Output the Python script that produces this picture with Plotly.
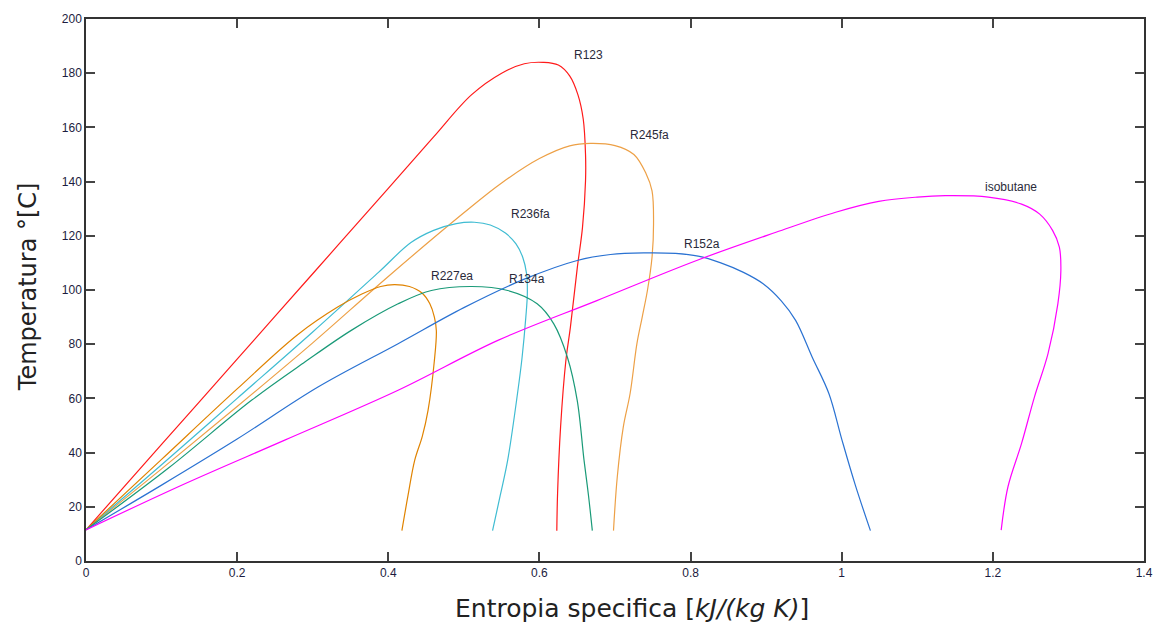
import plotly.graph_objects as go

# Saturation domes (entropy s [kJ/(kg K)], temperature T [°C]) for each working fluid
r123_s = [0, 0.1, 0.2, 0.3, 0.4, 0.46, 0.51, 0.55, 0.58, 0.605, 0.625, 0.64, 0.651,
          0.658, 0.661, 0.661, 0.657, 0.65, 0.641, 0.635, 0.628, 0.624, 0.623]
r123_t = [11.5, 43, 74.5, 106, 137.5, 156.5, 172, 180, 183.5, 184, 183, 179, 172,
          163, 150, 140.3, 123.1, 108, 86.3, 74, 49.5, 24.9, 11.2]

r245fa_s = [0, 0.1, 0.2, 0.3, 0.4, 0.5, 0.55, 0.6, 0.64, 0.6675, 0.70, 0.725, 0.741,
            0.749, 0.751, 0.749, 0.743, 0.736, 0.729, 0.72, 0.711, 0.703, 0.698]
r245fa_t = [11.5, 34, 57, 80.5, 105, 128.5, 139.5, 148.5, 153.2, 154.1, 153.3, 150, 143,
            136.6, 124.4, 112.1, 100, 90, 80.2, 61.8, 49.5, 31, 11.2]

r236fa_s = [0, 0.1, 0.2, 0.3, 0.387, 0.43, 0.46, 0.49, 0.514, 0.535, 0.555, 0.569, 0.578,
            0.583, 0.584, 0.582, 0.577, 0.571, 0.558, 0.548, 0.538]
r236fa_t = [11.5, 35.5, 60, 84.5, 106.5, 117.5, 122, 124.5, 125, 124, 121, 117, 112,
            106, 98.6, 90, 75, 61.8, 37.2, 24, 11.2]

r227ea_s = [0, 0.1, 0.2, 0.28, 0.333, 0.365, 0.39, 0.408, 0.428, 0.445, 0.455, 0.461,
            0.4636, 0.461, 0.4526, 0.445, 0.435, 0.426, 0.418]
r227ea_t = [11.5, 37.5, 63.5, 83.5, 93.7, 98.5, 101.3, 102, 101.3, 98.8, 94.9, 90,
            85, 74, 55.6, 46, 37.2, 24, 11.2]

r134a_s = [0, 0.11, 0.219, 0.29, 0.351, 0.413, 0.457, 0.51, 0.558, 0.597, 0.619, 0.637,
           0.65, 0.659, 0.665, 0.67]
r134a_t = [11.5, 34.5, 59.3, 73.5, 85.1, 94.9, 99.8, 101.3, 99.8, 94.9, 87.5, 75.2,
           59.3, 37.2, 24, 11.2]

r152a_s = [0, 0.1, 0.2, 0.307, 0.413, 0.5, 0.58, 0.65, 0.694, 0.738, 0.78, 0.81, 0.84,
           0.87, 0.896, 0.92, 0.939, 0.961, 0.983, 1.0, 1.018, 1.038]
r152a_t = [11.5, 28, 45, 64.2, 80.2, 93.5, 104, 110.9, 113.1, 113.7, 113.5, 112.5, 110,
           106.5, 102.3, 96, 88.8, 75.2, 61.8, 45, 28, 11.2]

isobutane_s = [0, 0.1316, 0.263, 0.413, 0.545, 0.676, 0.808, 0.913, 0.992, 1.049, 1.1, 1.137,
               1.194, 1.238, 1.262, 1.279, 1.288, 1.29, 1.286, 1.273, 1.255, 1.238, 1.22, 1.211]
isobutane_t = [11.5, 28.6, 44.6, 63, 81.4, 96.1, 110.9, 121.3, 128.7, 132.7, 134.3, 134.8,
               134.3, 131.7, 128, 122, 115.8, 107.2, 94.9, 76.5, 60.5, 43.4, 27.4, 11.4]

fluids = [
    ("R123", r123_s, r123_t, "#ff1a1a"),
    ("R245fa", r245fa_s, r245fa_t, "#eda046"),
    ("R236fa", r236fa_s, r236fa_t, "#3fbcd2"),
    ("R227ea", r227ea_s, r227ea_t, "#e08300"),
    ("R134a", r134a_s, r134a_t, "#1a9a78"),
    ("R152a", r152a_s, r152a_t, "#2a72d2"),
    ("isobutane", isobutane_s, isobutane_t, "#ff00ff"),
]

# Label anchor positions (s, T) for each fluid name
label_s = [0.665, 0.746, 0.588, 0.484, 0.584, 0.815, 1.224]
label_t = [186.7, 157.3, 128.0, 105.0, 104.2, 116.8, 138.0]

x_ticks = [0, 0.2, 0.4, 0.6, 0.8, 1, 1.2, 1.4]
y_ticks = [0, 20, 40, 60, 80, 100, 120, 140, 160, 180, 200]

fig = go.Figure()
for name, s, t, color in fluids:
    fig.add_trace(go.Scatter(
        x=s, y=t, mode="lines", name=name,
        line=dict(color=color, width=1.2, shape="spline", smoothing=1.0),
        showlegend=False,
    ))

for (name, _, _, _), ls, lt in zip(fluids, label_s, label_t):
    fig.add_annotation(x=ls, y=lt, text=name, showarrow=False,
                       font=dict(family="Liberation Sans, Arial", size=12, color="#2a2a3a"))

axis_common = dict(
    showgrid=False, zeroline=False, showline=True, linecolor="#333333", linewidth=1.5,
    mirror="ticks", ticks="inside", ticklen=9, tickwidth=1.5, tickcolor="#444444",
    tickfont=dict(family="Liberation Sans, Arial", size=12, color="#1c1c40"),
)

fig.update_xaxes(range=[0, 1.4], tickvals=x_ticks,
                 ticktext=[f"{v:g}" for v in x_ticks], **axis_common)
fig.update_yaxes(range=[0, 200], tickvals=y_ticks,
                 ticktext=[str(v) for v in y_ticks], **axis_common)

fig.add_annotation(xref="paper", yref="paper", x=0.516, y=-0.088,
                   text="Entropia specifica [<i>kJ/(kg K)</i>]", showarrow=False,
                   xanchor="center", yanchor="middle",
                   font=dict(family="DejaVu Sans, Liberation Sans", size=25, color="#222222"))
fig.add_annotation(xref="paper", yref="paper", x=-0.0554, y=0.506,
                   text="Temperatura °[C]", showarrow=False, textangle=-90,
                   xanchor="center", yanchor="middle",
                   font=dict(family="DejaVu Sans, Liberation Sans", size=24, color="#222222"))

fig.update_layout(
    width=1165, height=626,
    margin=dict(l=86, r=14, t=18, b=65),
    paper_bgcolor="white", plot_bgcolor="white",
)

fig.write_html("out.html")
